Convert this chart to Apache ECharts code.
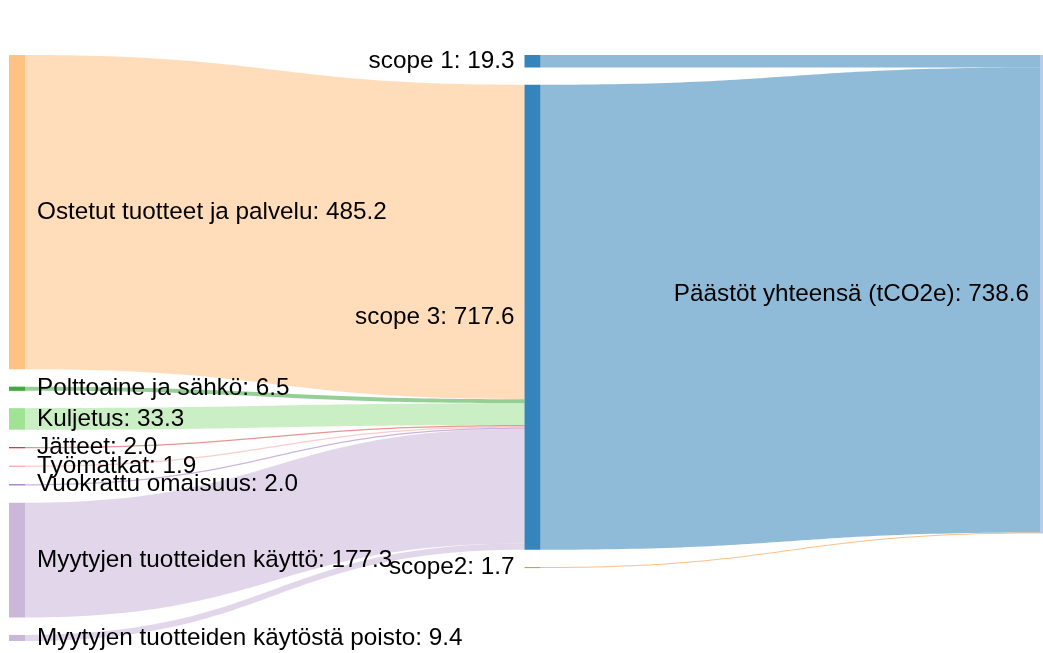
<!DOCTYPE html>
<html>
<head>
<meta charset="utf-8">
<script src="https://cdn.jsdelivr.net/npm/echarts@6/dist/echarts.min.js"></script>
<style>
  html, body { margin: 0; padding: 0; background: #ffffff; }
  #chart { width: 1043px; height: 653px; }
</style>
</head>
<body>
<div id="chart"></div>
<script>
// ---- data ----
const sourceNames = [
  'Ostetut tuotteet ja palvelu',
  'Polttoaine ja sähkö',
  'Kuljetus',
  'Jätteet',
  'Työmatkat',
  'Vuokrattu omaisuus',
  'Myytyjen tuotteiden käyttö',
  'Myytyjen tuotteiden käytöstä poisto'
];
const sourceValues = [485.2, 6.5, 33.3, 2.0, 1.9, 2.0, 177.3, 9.4];
const sourceColors = ['#ffbb78', '#2ca02c', '#98df8a', '#d62728', '#ff9896', '#9467bd', '#c5b0d5', '#c5b0d5'];

const scopeNames = ['scope 1', 'scope 3', 'scope2'];
const scopeValues = [19.3, 717.6, 1.7];
const scopeColors = ['#1f77b4', '#1f77b4', '#ff7f0e'];
// every source feeds this scope
const sourceTarget = 'scope 3';

const totalName = 'Päästöt yhteensä (tCO2e)';
const totalValue = 738.6;
const totalColor = '#aec7e8';

// ---- build the sankey ----
const nodes = [];
sourceNames.forEach((n, i) => nodes.push({
  name: n, value: sourceValues[i], depth: 0,
  itemStyle: { color: sourceColors[i] },
  label: { position: 'right', distance: 12 }
}));
scopeNames.forEach((n, i) => nodes.push({
  name: n, value: scopeValues[i], depth: 1,
  itemStyle: { color: scopeColors[i] },
  label: { position: 'left', distance: 10 }
}));
nodes.push({
  name: totalName, value: totalValue, depth: 2,
  itemStyle: { color: totalColor },
  label: { position: 'left', distance: 11 }
});

const links = [];
sourceNames.forEach((n, i) => links.push({ source: n, target: sourceTarget, value: sourceValues[i] }));
scopeNames.forEach((n, i) => links.push({ source: n, target: totalName, value: scopeValues[i] }));

const chart = echarts.init(document.getElementById('chart'), null, { renderer: 'canvas' });
chart.setOption({
  animation: false,
  backgroundColor: '#ffffff',
  series: [{
    type: 'sankey',
    left: 9,
    right: -13,
    top: 55,
    bottom: 12,
    nodeWidth: 16,
    nodeGap: 17.3,
    layoutIterations: 0,
    draggable: false,
    data: nodes,
    links: links,
    itemStyle: { opacity: 0.9, borderWidth: 0 },
    lineStyle: { color: 'source', opacity: 0.5, curveness: 0.5 },
    emphasis: { disabled: true },
    label: {
      show: true,
      color: '#000000',
      fontFamily: '"Liberation Sans", Arial, sans-serif',
      fontSize: 24.3,
      formatter: p => p.name + ': ' + Number(p.value).toFixed(1)
    }
  }]
});
</script>
</body>
</html>
